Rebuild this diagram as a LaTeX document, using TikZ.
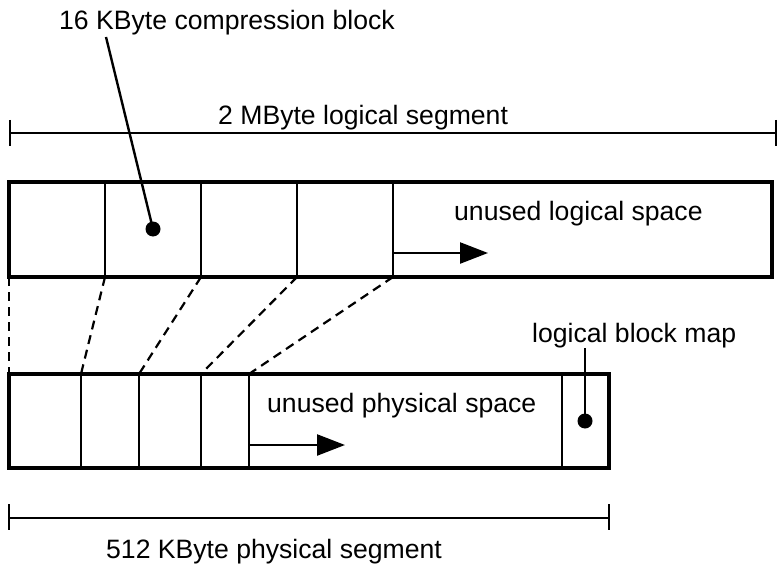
\documentclass[tikz,border=0pt]{standalone}
\usepackage{fontspec}
\setmainfont{Liberation Sans}
\usetikzlibrary{arrows.meta}
\begin{document}
\begin{tikzpicture}[x=1pt,y=-1pt,
  lbl/.style={font=\fontsize{26.6}{30}\selectfont, inner sep=0pt, anchor=base west},
  thickbox/.style={line width=4.3pt},
  thinline/.style={line width=2.4pt},
  dashline/.style={line width=2.2pt, dash pattern=on 9pt off 6pt},
  dimline/.style={line width=2.6pt},
  arr/.style={line width=2.4pt, -{Triangle[length=28pt,width=21pt]}},
  dotmark/.style={circle, fill=black, inner sep=0pt, minimum size=15pt}]
\useasboundingbox (0,0) rectangle (778,564);
% top (logical) segment
\draw[thickbox] (9,182) rectangle (772,277);
\foreach \i/\x in {1/105,2/201,3/297,4/393}{
  \coordinate (tt\i) at (\x,182);
  \coordinate (t\i) at (\x,277);
  \draw[thinline] (tt\i) -- (t\i);
}
\coordinate (t0) at (9,277);
% bottom (physical) segment
\draw[thickbox] (9,374) rectangle (609,468);
\foreach \i/\x in {1/81,2/139,3/201,4/249,5/562}{
  \coordinate (bt\i) at (\x,374);
  \coordinate (bb\i) at (\x,468);
  \draw[thinline] (bt\i) -- (bb\i);
}
\coordinate (bt0) at (9,374);
% dashed mapping lines
\foreach \i in {0,1,2,3,4}{
  \draw[dashline] (t\i) -- (bt\i);
}
% top dimension
\coordinate (dl1) at (10,133);
\coordinate (dr1) at (776,133);
\draw[dimline] (dl1) -- (dr1);
\draw[dimline] (10,120) -- (10,146);
\draw[dimline] (776,120) -- (776,146);
\node[lbl] (seg1) at (218,125) {2 MByte logical segment};
% bottom dimension
\coordinate (dl2) at (9,518);
\coordinate (dr2) at (609,518);
\draw[dimline] (dl2) -- (dr2);
\draw[dimline] (9,504) -- (9,530);
\draw[dimline] (609,504) -- (609,530);
\node[lbl] (seg2) at (106,558) {512 KByte physical segment};
% compression block label
\node[lbl] (cb) at (59,29.5) {16 KByte compression block};
\coordinate (cbl) at (106,37);
\node[dotmark] (d1) at (153,229) {};
\draw[thinline] (cbl) -- (d1.center);
% logical block map label
\node[lbl] (lbm) at (532,342) {logical block map};
\coordinate (lbml) at (585,348);
\node[dotmark] (d2) at (585,421) {};
\draw[thinline] (lbml) -- (d2.center);
% unused spaces
\node[lbl] (ul) at (454,220) {unused logical space};
\coordinate (a1s) at (393,253);
\coordinate (a1e) at (488,253);
\draw[arr] (a1s) -- (a1e);
\node[lbl] (up) at (267,412) {unused physical space};
\coordinate (a2s) at (249,445);
\coordinate (a2e) at (345,445);
\draw[arr] (a2s) -- (a2e);
\end{tikzpicture}
\end{document}
